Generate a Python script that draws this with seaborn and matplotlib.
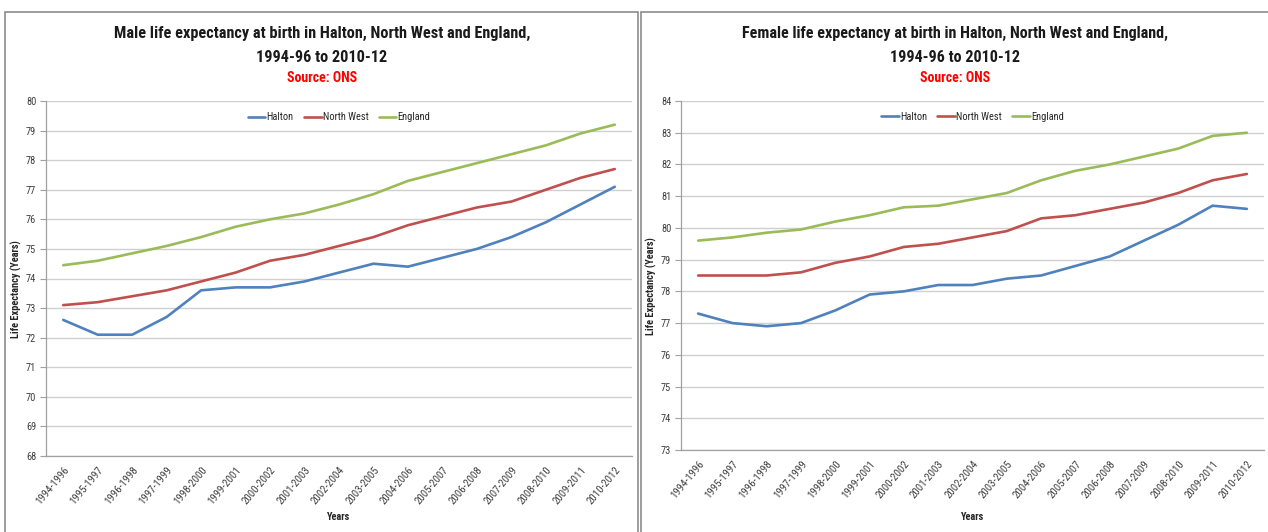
import numpy as np
import pandas as pd
import matplotlib
matplotlib.use("Agg")
import matplotlib.pyplot as plt
from matplotlib import font_manager
from matplotlib.patches import Rectangle
import seaborn as sns

periods = ['1994-1996', '1995-1997', '1996-1998', '1997-1999', '1998-2000',
           '1999-2001', '2000-2002', '2001-2003', '2002-2004', '2003-2005',
           '2004-2006', '2005-2007', '2006-2008', '2007-2009', '2008-2010',
           '2009-2011', '2010-2012']
areas = ['Halton', 'North West', 'England']

male_halton = [72.6, 72.1, 72.1, 72.7, 73.6, 73.7, 73.7, 73.9, 74.2, 74.5,
               74.4, 74.7, 75.0, 75.4, 75.9, 76.5, 77.1]
male_nw = [73.1, 73.2, 73.4, 73.6, 73.9, 74.2, 74.6, 74.8, 75.1, 75.4,
           75.8, 76.1, 76.4, 76.6, 77.0, 77.4, 77.7]
male_england = [74.45, 74.6, 74.85, 75.1, 75.4, 75.75, 76.0, 76.2, 76.5, 76.85,
                77.3, 77.6, 77.9, 78.2, 78.5, 78.9, 79.2]

female_halton = [77.3, 77.0, 76.9, 77.0, 77.4, 77.9, 78.0, 78.2, 78.2, 78.4,
                 78.5, 78.8, 79.1, 79.6, 80.1, 80.7, 80.6]
female_nw = [78.5, 78.5, 78.5, 78.6, 78.9, 79.1, 79.4, 79.5, 79.7, 79.9,
             80.3, 80.4, 80.6, 80.8, 81.1, 81.5, 81.7]
female_england = [79.6, 79.7, 79.85, 79.95, 80.2, 80.4, 80.65, 80.7, 80.9, 81.1,
                  81.5, 81.8, 82.0, 82.25, 82.5, 82.9, 83.0]

male_yticks = list(range(68, 81))
female_yticks = list(range(73, 85))

colors = {'Halton': '#4F81BD', 'North West': '#C0504D', 'England': '#9BBB59'}

sns.set_theme(style="white")

# narrow font if we have one, Calibri-ish look
installed = {f.name for f in font_manager.fontManager.ttflist}
family = 'DejaVu Sans'
for cand in ['Liberation Sans Narrow', 'Roboto Condensed', 'Open Sans Condensed',
             'Liberation Sans', 'Roboto']:
    if cand in installed:
        family = cand
        break
plt.rcParams['font.family'] = [family, 'DejaVu Sans']


def long_df(series):
    rows = []
    for area, vals in zip(areas, series):
        for i, v in enumerate(vals):
            rows.append({'idx': i, 'Area': area, 'Value': v})
    return pd.DataFrame(rows)


male_df = long_df([male_halton, male_nw, male_england])
female_df = long_df([female_halton, female_nw, female_england])

fig = plt.figure(figsize=(12.68, 5.32), dpi=100)
renderer = fig.canvas.get_renderer()


def fit_text(t, width_px):
    # shrink/grow a text so it spans about width_px pixels
    w = t.get_window_extent(renderer=renderer).width
    t.set_fontsize(t.get_fontsize() * width_px / w)


# panel borders
fig.patches.append(Rectangle((5 / 1268, -0.01), 633 / 1268, 1 - 12 / 532 + 0.01,
                             transform=fig.transFigure, fill=False,
                             edgecolor='#8c8c8c', linewidth=1.2))
fig.patches.append(Rectangle((641 / 1268, -0.01), 640 / 1268, 1 - 12 / 532 + 0.01,
                             transform=fig.transFigure, fill=False,
                             edgecolor='#8c8c8c', linewidth=1.2))

ax1 = fig.add_axes([46 / 1268, 1 - 456 / 532, (632 - 46) / 1268, (456 - 101) / 532])
ax2 = fig.add_axes([681 / 1268, 1 - 450 / 532, (1264 - 681) / 1268, (450 - 101) / 532])


def style_axis(ax, df, yticks, sex, cx, w1, xlab_y):
    sns.lineplot(data=df, x='idx', y='Value', hue='Area', palette=colors,
                 linewidth=1.9, ax=ax)
    ax.set_xlim(-0.5, len(periods) - 0.5)
    ax.set_ylim(yticks[0], yticks[-1])
    ax.set_yticks(yticks)
    ax.set_yticklabels([str(t) for t in yticks], fontsize=7.5, color='#404040')
    ax.set_xticks(range(len(periods)))
    ax.set_xticklabels(periods, rotation=50, ha='right', rotation_mode='anchor',
                       fontsize=7.8, color='#404040')
    ax.set_xticks(np.arange(-0.5, len(periods)), minor=True)
    ax.tick_params(axis='x', which='major', length=0, pad=6)
    ax.tick_params(axis='x', which='minor', length=4, color='#a0a0a0', width=0.8)
    ax.tick_params(axis='y', length=4, color='#a0a0a0', width=0.8, left=True, pad=3)
    ax.grid(axis='y', color='#d0d0d0', linewidth=1)
    ax.set_axisbelow(True)
    for s in ['top', 'right']:
        ax.spines[s].set_visible(False)
    for s in ['left', 'bottom']:
        ax.spines[s].set_color('#a0a0a0')
        ax.spines[s].set_linewidth(0.9)
    ax.set_xlabel('Years', fontsize=7.5, fontweight='bold')
    ax.xaxis.set_label_coords(0.5, xlab_y)
    ax.set_ylabel('Life Expectancy (Years)', fontsize=7.5, fontweight='bold')
    ax.yaxis.set_label_coords(-0.041, 0.47)
    handles, labels = ax.get_legend_handles_labels()
    ax.legend(handles, labels, loc='upper center', bbox_to_anchor=(0.5, 0.995),
              ncol=3, frameon=False, fontsize=7.5, handlelength=1.7,
              handletextpad=0.1, columnspacing=1.0)
    t1 = fig.text(cx, 1 - 33 / 532, f'{sex} life expectancy at birth in Halton, North West and England,',
                  ha='center', va='center', fontsize=12, fontweight='bold', color='#1a1a1a')
    t2 = fig.text(cx, 1 - 57 / 532, '1994-96 to 2010-12',
                  ha='center', va='center', fontsize=12, fontweight='bold', color='#1a1a1a')
    t3 = fig.text(cx, 1 - 78 / 532, 'Source: ONS',
                  ha='center', va='center', fontsize=9, fontweight='bold', color='#ff0000')
    fit_text(t1, w1)
    t2.set_fontsize(t1.get_fontsize())
    t3.set_fontsize(t1.get_fontsize() * 0.86)


style_axis(ax1, male_df, male_yticks, 'Male', 322 / 1268, 415, -0.158)
style_axis(ax2, female_df, female_yticks, 'Female', 955 / 1268, 428, -0.178)

fig.savefig('out.png', dpi=100)
